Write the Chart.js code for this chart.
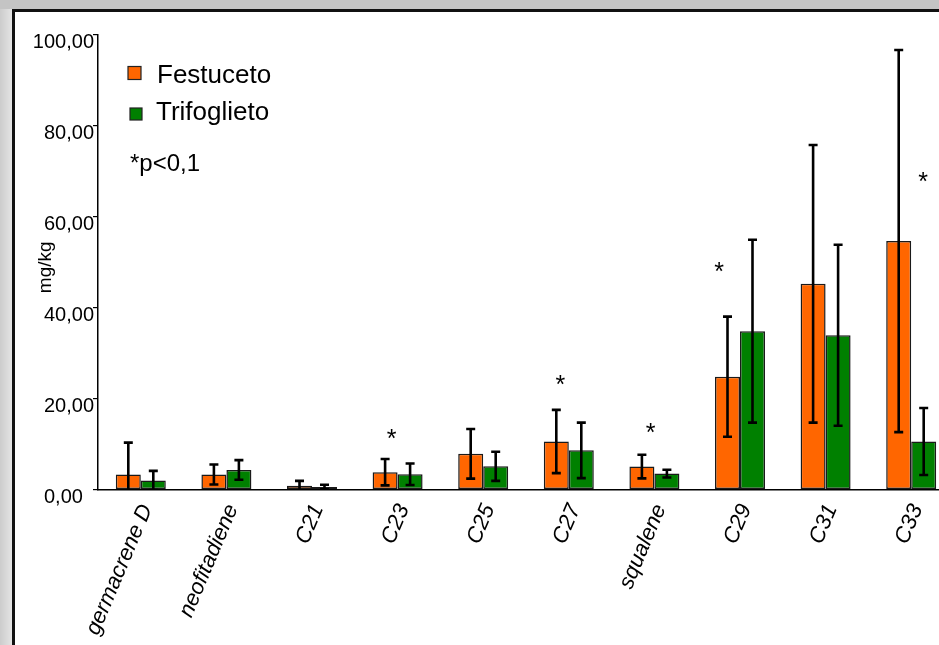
<!DOCTYPE html>
<html>
<head>
<meta charset="utf-8">
<script src="https://cdn.jsdelivr.net/npm/chart.js@4/dist/chart.umd.min.js"></script>
<style>
  html, body { margin: 0; padding: 0; width: 939px; height: 645px; overflow: hidden; background: #c4c4c4; }
  #leftstrip { position: absolute; left: 0; top: 9px; width: 12px; height: 640px; background: linear-gradient(to right, #cccccc, #e4e4e4); }
  #panel { position: absolute; left: 12px; top: 9px; width: 1000px; height: 700px; border: 3px solid #111; background: #fff; }
  #c { position: absolute; left: 16px; top: 13px; }
</style>
</head>
<body>
<div id="leftstrip"></div>
<div id="panel"></div>
<canvas id="c" width="960" height="632"></canvas>
<script>
// ---- data ----
const categories = ['germacrene D', 'neofitadiene', 'C21', 'C23', 'C25', 'C27', 'squalene', 'C29', 'C31', 'C33'];
const festuceto = [3.3, 3.3, 0.85, 3.8, 7.85, 10.55, 5.05, 24.8, 45.2, 54.6];
const festucetoSD = [7.0, 2.2, 1.05, 2.9, 5.45, 6.95, 2.6, 13.2, 30.5, 42.0];
const trifoglieto = [2.0, 4.3, 0.55, 3.35, 5.1, 8.6, 3.5, 34.8, 33.9, 10.55];
const trifoglietoSD = [2.1, 2.15, 0.5, 2.35, 3.2, 6.1, 0.85, 20.1, 19.9, 7.35];
// level of the significance asterisk (null = none)
const significance = [null, null, null, 12.7, null, 24.5, 14.0, 49.4, null, 69.1];
const yTickValues = [0, 20, 40, 60, 80, 100];
const yTickLabels = ['0,00', '20,00', '40,00', '60,00', '80,00', '100,00'];
const seriesNames = ['Festuceto', 'Trifoglieto'];
const noteText = '*p<0,1';
const yTitle = 'mg/kg';

// ---- styles ----
const FONT = '"Liberation Sans", Arial, Helvetica, sans-serif';
const colors = ['#ff6600', '#008000'];
const sigOffset = [0, 0, 0, -0.07, 0, -0.1, -0.045, -0.245, 0, 0.14]; // fraction of category width

const extras = {
  id: 'extras',
  afterDatasetsDraw(chart) {
    const ctx = chart.ctx;
    const xs = chart.scales.x, ys = chart.scales.y;
    const area = chart.chartArea;
    // error bars
    ctx.save();
    ctx.beginPath();
    ctx.rect(area.left - 10, area.top - 20, area.right - area.left + 20, area.bottom - area.top + 20.5);
    ctx.clip();
    ctx.strokeStyle = '#000';
    ctx.lineWidth = 2.6;
    const sds = [festucetoSD, trifoglietoSD];
    chart.data.datasets.forEach((ds, di) => {
      const meta = chart.getDatasetMeta(di);
      meta.data.forEach((bar, i) => {
        const v = ds.data[i], sd = sds[di][i];
        const x = bar.x;
        const yt = ys.getPixelForValue(v + sd);
        const yb = ys.getPixelForValue(v - sd);
        ctx.beginPath();
        ctx.moveTo(x, yt); ctx.lineTo(x, yb);
        ctx.moveTo(x - 4.5, yt); ctx.lineTo(x + 4.5, yt);
        ctx.moveTo(x - 4.5, yb); ctx.lineTo(x + 4.5, yb);
        ctx.stroke();
      });
    });
    ctx.restore();
    // asterisks
    ctx.save();
    ctx.fillStyle = '#000';
    ctx.font = '25px ' + FONT;
    ctx.textAlign = 'center';
    ctx.textBaseline = 'alphabetic';
    const cw = (xs.getPixelForValue(1) - xs.getPixelForValue(0));
    significance.forEach((s, i) => {
      if (s === null) return;
      const x = xs.getPixelForValue(i) + sigOffset[i] * cw;
      const y = ys.getPixelForValue(s) + 15;
      ctx.fillText('*', x, y);
    });
    // legend
    const lx = area.left;
    const ly = area.top;
    ctx.lineWidth = 1.2;
    ctx.strokeStyle = '#222';
    ctx.fillStyle = colors[0];
    ctx.fillRect(lx + 30, ly + 32, 13, 13);
    ctx.strokeRect(lx + 30, ly + 32, 13, 13);
    ctx.fillStyle = colors[1];
    ctx.fillRect(lx + 32, ly + 73.5, 12, 12);
    ctx.strokeRect(lx + 32, ly + 73.5, 12, 12);
    ctx.fillStyle = '#000';
    ctx.textAlign = 'left';
    ctx.font = '26px ' + FONT;
    ctx.fillText(seriesNames[0], lx + 59, ly + 48.5);
    ctx.fillText(seriesNames[1], lx + 58, ly + 85);
    ctx.font = '24px ' + FONT;
    ctx.fillText(noteText, lx + 32, ly + 136.5);
    ctx.restore();
  }
};

new Chart(document.getElementById('c'), {
  type: 'bar',
  data: {
    labels: categories,
    datasets: [
      { label: seriesNames[0], data: festuceto, backgroundColor: colors[0], borderColor: '#1a1a1a', borderWidth: 1.5, borderSkipped: false },
      { label: seriesNames[1], data: trifoglieto, backgroundColor: colors[1], borderColor: '#1a1a1a', borderWidth: 1.5, borderSkipped: false }
    ]
  },
  options: {
    responsive: false,
    animation: false,
    devicePixelRatio: 1,
    layout: { padding: { left: 0, top: 21.5, right: 22, bottom: 0 } },
    datasets: { bar: { categoryPercentage: 0.584, barPercentage: 1.0 } },
    plugins: { legend: { display: false }, tooltip: { enabled: false } },
    scales: {
      x: {
        grid: { display: true, drawOnChartArea: false, drawTicks: false, color: 'rgba(0,0,0,0)' },
        border: { display: true, color: '#000', width: 1.5 },
        ticks: {
          color: '#000',
          font: { family: FONT, size: 22, style: 'italic' },
          minRotation: 67, maxRotation: 67,
          padding: 11,
          labelOffset: 6,
          autoSkip: false
        },
        afterFit(scale) { scale.height = 155.5; }
      },
      y: {
        min: 0, max: 100,
        afterBuildTicks(scale) { scale.ticks = yTickValues.map(v => ({ value: v })); },
        grid: { display: true, drawOnChartArea: false, drawTicks: true, tickLength: 5, color: '#000', lineWidth: 1.2 },
        border: { display: true, color: '#000', width: 1.5 },
        ticks: {
          color: '#000',
          font: { family: FONT, size: 20 },
          padding: -1,
          labelOffset: 7.5,
          callback: (v) => v === 0 ? yTickLabels[0] + '  ' : yTickLabels[yTickValues.indexOf(v)]
        },
        title: { display: true, text: yTitle + '  ', color: '#000', font: { family: FONT, size: 19 }, padding: { top: 18, bottom: 0 } },
        afterFit(scale) { scale.width = 82; }
      }
    }
  },
  plugins: [extras]
});
</script>
</body>
</html>
